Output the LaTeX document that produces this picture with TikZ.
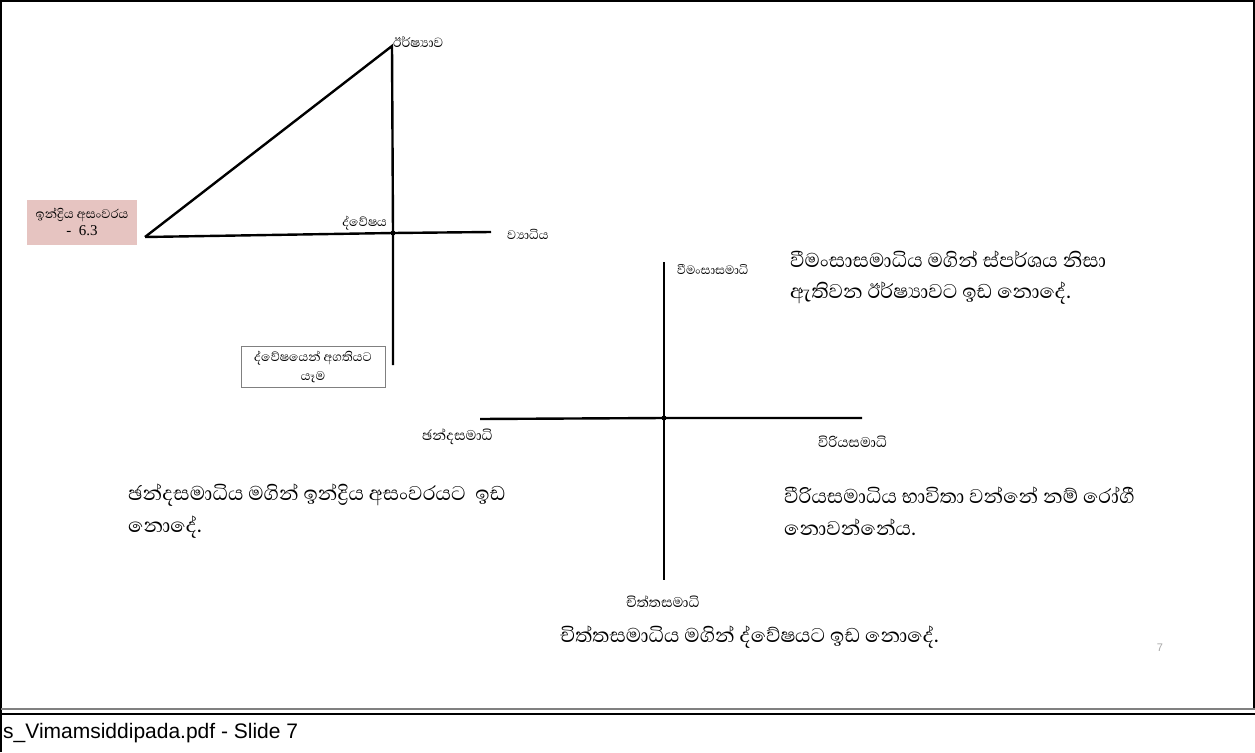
\documentclass[tikz,border=0pt]{standalone}
\usepackage{fontspec}
\setmainfont{Liberation Serif}
\newfontfamily\sinhfont[Script=Sinhala]{Abhaya Libre}
\newfontfamily\arialf{Liberation Sans}
\begin{document}
\begin{tikzpicture}[x=1pt,y=-1pt,
  axis/.style={line width=2.4pt,black},
  small/.style={font=\sinhfont\fontsize{16}{18}\selectfont,inner sep=0pt},
  label/.style={font=\sinhfont\fontsize{18}{20}\selectfont,inner sep=0pt},
  big/.style={font=\sinhfont\fontsize{25.5}{34}\selectfont,inner sep=0pt,align=left},
  hub/.style={circle,fill=black,inner sep=0pt,minimum size=5pt}]
\useasboundingbox (0,0) rectangle (1255,752);
% page frame and footer rules
\draw[line width=1.5pt] (1,752) -- (1,1) -- (1254,1) -- (1254,709);
\draw[gray,line width=1.2pt] (1,709) -- (1255,709);
\draw[line width=1.5pt] (1,714) -- (1255,714);
\node[font=\arialf\fontsize{21}{24}\selectfont,anchor=west,inner sep=0pt] (foot) at (3,733) {s\_Vimamsiddipada.pdf - Slide 7};

% first figure: triangle with crossing axis
\coordinate (tip) at (392,46);
\coordinate (corner) at (145,237);
\coordinate (eastA) at (491,232);
\coordinate (southA) at (393,365);
\node[hub] (hubA) at (393,233) {};
\draw[axis] (corner) -- (tip) -- (hubA.center) -- (southA);
\draw[axis] (corner) -- (hubA.center) -- (eastA);
\node[small,anchor=west,font=\sinhfont\fontsize{17}{18}\selectfont] (irshyava) at (393,42) {ඊර්ෂ්‍යාව};
\node[small,anchor=east] (dvesha) at (387,223) {ද්වේෂය};
\node[small,anchor=west] (vyadhi) at (507,234) {ව්‍යාධිය};
\node[fill={rgb,255:red,230;green,196;blue,193},minimum width=110pt,minimum height=45pt,align=center,inner sep=2pt,
  font=\sinhfont\fontsize{16}{19}\selectfont] (indriya) at (82,222) {ඉන්ද්‍රිය අසංවරය\\[-2pt]{\rmfamily\fontsize{15}{16}\selectfont - \ 6.3}};
\node[draw=gray,line width=0.8pt,minimum width=144pt,minimum height=41pt,align=center,inner sep=2pt,
  font=\sinhfont\fontsize{16}{19}\selectfont] (agati) at (313,367) {ද්වේෂයෙන් අගතියට\\යෑම};

% second figure: the four samadhi axes
\coordinate (northB) at (664,262);
\coordinate (southB) at (664,580);
\coordinate (westB) at (480,419);
\coordinate (eastB) at (862,418);
\node[hub] (hubB) at (664,418) {};
\draw[axis] (northB) -- (hubB.center) -- (southB);
\draw[axis] (westB) -- (hubB.center) -- (eastB);
\node[label,anchor=west,font=\sinhfont\fontsize{15.5}{17}\selectfont] (vimamsa) at (677,270) {වීමංසාසමාධි};
\node[label,anchor=west] (chanda) at (422,437) {ඡන්දසමාධි};
\node[label,anchor=west] (viriya) at (818,442) {විරියසමාධි};
\node[label,anchor=west] (chitta) at (626,602) {චිත්තසමාධි};

% explanatory sentences
\node[big,anchor=west] (tvim) at (790,259) {වීමංසාසමාධිය මගින් ස්පර්ශය නිසා};
\node[big,anchor=west] (tvim2) at (790,293) {ඇතිවන ඊර්ෂ්‍යාවට ඉඩ නොදේ.};
\node[big,anchor=west] (tcha) at (128,495) {ඡන්දසමාධිය මගින් ඉන්ද්‍රිය අසංවරයට\ \ ඉඩ};
\node[big,anchor=west] (tcha2) at (128,527) {නොදේ.};
\node[big,anchor=west] (tvir) at (784,495) {වීරියසමාධිය භාවිතා වන්නේ නම් රෝගී};
\node[big,anchor=west] (tvir2) at (784,527) {නොවන්නේය.};
\node[big,anchor=west] (tchi) at (560,637) {චිත්තසමාධිය මගින් ද්වේෂයට ඉඩ නොදේ.};
\node[font=\arialf\fontsize{11}{12}\selectfont,text=gray!70,inner sep=0pt] (num) at (1160,648) {7};
\end{tikzpicture}
\end{document}
